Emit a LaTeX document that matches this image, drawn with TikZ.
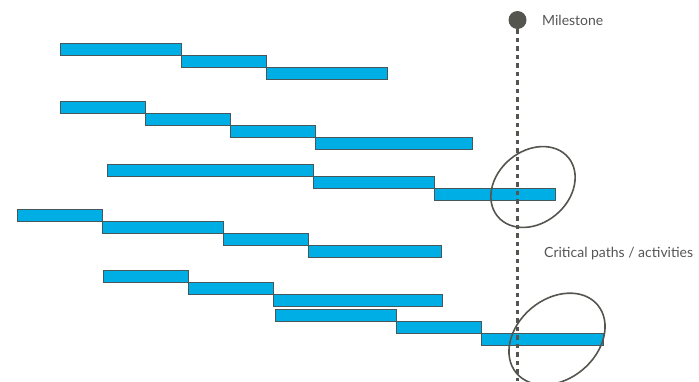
\documentclass[tikz,border=0pt]{standalone}
\usepackage{fontspec}
\setmainfont{Lato}
\usetikzlibrary{shapes.geometric}
\definecolor{barblue}{RGB}{0,174,230}
\definecolor{barline}{RGB}{70,88,92}
\definecolor{mgray}{RGB}{85,85,80}
\definecolor{tgray}{RGB}{85,85,85}
\tikzset{
  bar/.style={draw=barline, fill=barblue, line width=1pt, inner sep=0pt, outer sep=0pt, minimum height=12pt, anchor=north west},
  ring/.style={draw=mgray, line width=1.6pt, ellipse, inner sep=0pt, rotate=40},
  lbl/.style={text=tgray, font=\fontsize{14}{16}\selectfont, anchor=west, inner sep=0pt}
}
\begin{document}
\begin{tikzpicture}[x=1pt,y=-1pt]
\useasboundingbox (0,0) rectangle (699,381);
% row 1
\node[bar, minimum width=121pt] (a1) at (60,43) {};
\node[bar, minimum width=85pt] (a2) at (181,55) {};
\node[bar, minimum width=121pt] (a3) at (266,67) {};
% row 2
\node[bar, minimum width=85pt] (b1) at (60,101) {};
\node[bar, minimum width=85pt] (b2) at (145,113) {};
\node[bar, minimum width=85pt] (b3) at (230,125) {};
\node[bar, minimum width=157pt] (b4) at (315,137) {};
% row 3
\node[bar, minimum width=206pt] (c1) at (107,164) {};
\node[bar, minimum width=121pt] (c2) at (313,176) {};
\node[bar, minimum width=121pt] (c3) at (434,188) {};
% row 4
\node[bar, minimum width=85pt] (d1) at (17,209) {};
\node[bar, minimum width=121pt] (d2) at (102,221) {};
\node[bar, minimum width=85pt] (d3) at (223,233) {};
\node[bar, minimum width=133pt] (d4) at (308,245) {};
% row 5
\node[bar, minimum width=85pt] (e1) at (103,270) {};
\node[bar, minimum width=85pt] (e2) at (188,282) {};
\node[bar, minimum width=169pt] (e3) at (273,294) {};
% row 6
\node[bar, minimum width=121pt] (f1) at (275,309) {};
\node[bar, minimum width=85pt] (f2) at (396,321) {};
\node[bar, minimum width=122pt] (f3) at (481,333) {};
% milestone
\coordinate (mend) at (517.5,381);
\node[circle, fill=mgray, minimum size=18pt, inner sep=0pt] (ms) at (517.5,20) {};
\draw[mgray, line width=2.5pt, dash pattern=on 4.5pt off 4pt] (ms.south) -- (mend);
\node[lbl] (mslbl) at (542,20) {Milestone};
% critical ellipses
\node[ring, minimum width=92pt, minimum height=72pt] (r1) at (533,187) {};
\node[ring, minimum width=106pt, minimum height=80pt] (r2) at (557,339) {};
\node[lbl] (crit) at (544,254) {Critical paths / activities};
\end{tikzpicture}
\end{document}
